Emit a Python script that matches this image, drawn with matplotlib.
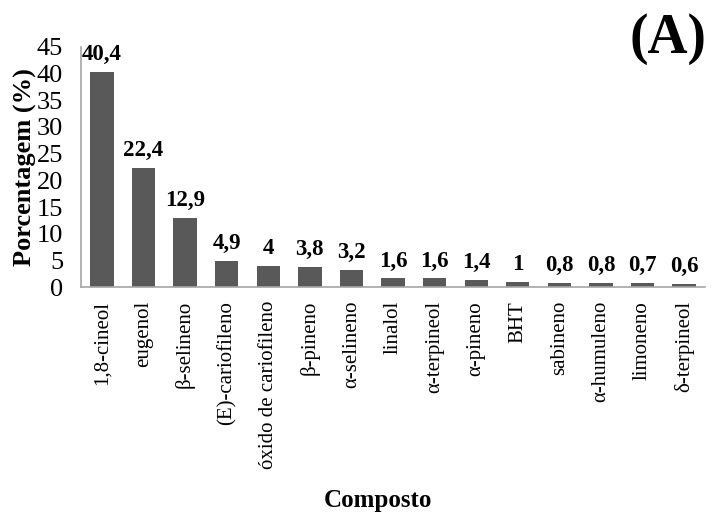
import matplotlib
matplotlib.use("Agg")
import matplotlib.pyplot as plt

compostos = ["1,8-cineol", "eugenol", "β-selineno", "(E)-cariofileno", "óxido de cariofileno",
             "β-pineno", "α-selineno", "linalol", "α-terpineol", "α-pineno", "BHT",
             "sabineno", "α-humuleno", "limoneno", "δ-terpineol"]
porcentagem = [40.4, 22.4, 12.9, 4.9, 4.0, 3.8, 3.2, 1.6, 1.6, 1.4, 1.0, 0.8, 0.8, 0.7, 0.6]
rotulos = ["40,4", "22,4", "12,9", "4,9", "4", "3,8", "3,2", "1,6", "1,6", "1,4", "1",
           "0,8", "0,8", "0,7", "0,6"]
yticks = [0, 5, 10, 15, 20, 25, 30, 35, 40, 45]

plt.rcParams['font.family'] = ['Liberation Serif', 'DejaVu Serif']

fig = plt.figure(figsize=(7.12, 5.14), dpi=100)
ax = fig.add_axes([0.114, 0.4416, 0.876, 0.467])

x = list(range(len(compostos)))
ax.bar(x, porcentagem, width=0.56, color="#595959")
for xi, v, lab in zip(x, porcentagem, rotulos):
    ax.text(xi, v + 1.3, lab, ha="center", va="bottom", fontsize=16.5, fontweight="bold")

ax.set_xlim(-0.5, len(compostos) - 0.5)
ax.set_ylim(0, 45)
ax.set_yticks(yticks)
ax.set_yticklabels([str(t) for t in yticks], fontsize=19)
ax.set_xticks(x)
ax.set_xticklabels(compostos, rotation=90, fontsize=15)
ax.tick_params(axis="x", length=0, pad=10)
ax.tick_params(axis="y", length=0, pad=13)

for s in ["top", "right"]:
    ax.spines[s].set_visible(False)
for s in ["left", "bottom"]:
    ax.spines[s].set_color("#a6a6a6")
    ax.spines[s].set_linewidth(1.2)

ax.set_ylabel("Porcentagem (%)", fontsize=19, fontweight="bold", labelpad=0)
fig.text(0.531, 0.027, "Composto", ha="center", va="center", fontsize=18, fontweight="bold")
fig.text(0.992, 0.925, "(A)", ha="right", va="center", fontsize=40, fontweight="bold")

fig.savefig("out.png", dpi=100)
